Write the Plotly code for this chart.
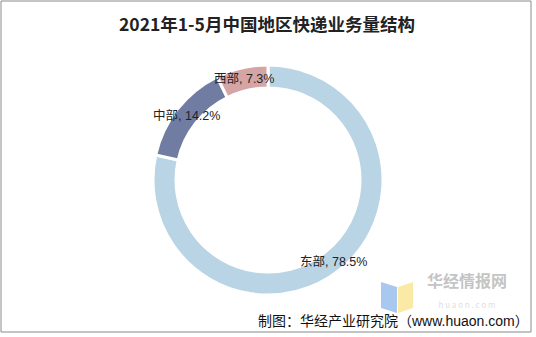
import math
import plotly.graph_objects as go

# Express delivery volume share by region, Jan-May 2021
regions = ["东部", "中部", "西部"]
shares = [78.5, 14.2, 7.3]
colors = ["#b9d4e4", "#717ca2", "#d5a5a6"]

W, H = 536, 337
cx, cy, r_out = 268, 180, 115
hole = 0.8

fig = go.Figure(go.Pie(
    labels=regions,
    values=shares,
    sort=False,
    direction="clockwise",
    rotation=0,
    hole=hole,
    marker=dict(colors=colors, line=dict(color="white", width=3)),
    textinfo="none",
    hoverinfo="label+percent",
    showlegend=False,
    domain=dict(x=[(cx - r_out) / W, (cx + r_out) / W],
                y=[1 - (cy + r_out) / H, 1 - (cy - r_out) / H]),
))

# Slice labels placed on the ring at each slice's mid angle
total = sum(shares)
r_lab = r_out * (1 + hole) / 2 + 0.5
acc = 0.0
annotations = []
for name, v in zip(regions, shares):
    mid = (acc + v / 2) / total * 2 * math.pi
    acc += v
    px = cx + r_lab * math.sin(mid)
    py = cy - r_lab * math.cos(mid)
    annotations.append(dict(
        x=px / W, y=1 - py / H, xref="paper", yref="paper",
        text=f"{name}, {v:.1f}%", showarrow=False,
        font=dict(family="Liberation Sans, Noto Sans CJK SC", size=12.5, color="#222"),
        xanchor="center", yanchor="middle",
    ))

# Title
annotations.append(dict(
    x=267 / W, y=1 - 23 / H, xref="paper", yref="paper",
    text="<b>2021年1-5月中国地区快递业务量结构</b>", showarrow=False,
    font=dict(family="Noto Sans CJK SC", size=17.5, color="#222"),
    xanchor="center", yanchor="middle",
))

# Watermark brand text with its web address beneath
annotations.append(dict(
    x=467 / W, y=1 - 289 / H, xref="paper", yref="paper",
    text=("<b>华经情报网</b><br>"
          "<span style='font-size:8px;color:#e0e0e0'>h u a o n . c o m</span>"),
    showarrow=False,
    font=dict(family="Noto Sans CJK SC", size=16, color="#c4c4c4"),
    xanchor="center", yanchor="middle", borderpad=0,
))

# Source note
annotations.append(dict(
    x=530 / W, y=1 - 321 / H, xref="paper", yref="paper",
    text="制图：华经产业研究院（www.huaon.com）", showarrow=False,
    font=dict(family="Liberation Sans, Noto Sans CJK SC", size=14, color="#111"),
    xanchor="right", yanchor="middle", borderpad=0,
))

def px_path(points):
    return "M " + " L ".join(f"{x / W:.5f},{1 - y / H:.5f}" for x, y in points) + " Z"

shapes = [
    # outer frame
    dict(type="rect", xref="paper", yref="paper",
         x0=1 / W, x1=531 / W, y0=1 - 332 / H, y1=1 - 1 / H,
         line=dict(color="#8a8a8a", width=1), fillcolor="rgba(0,0,0,0)"),
    # logo: blue and yellow folded panels
    dict(type="path", xref="paper", yref="paper",
         path=px_path([(381, 282), (397, 287), (397, 313), (381, 308)]),
         fillcolor="#a9c8f0", line=dict(width=0)),
    dict(type="path", xref="paper", yref="paper",
         path=px_path([(398, 287), (413, 282), (413, 308), (398, 313)]),
         fillcolor="#fbe9a6", line=dict(width=0)),
]

fig.update_layout(
    width=W, height=H,
    margin=dict(l=0, r=0, t=0, b=0),
    paper_bgcolor="white",
    plot_bgcolor="white",
    annotations=annotations,
    shapes=shapes,
)

fig.write_html("out.html")
